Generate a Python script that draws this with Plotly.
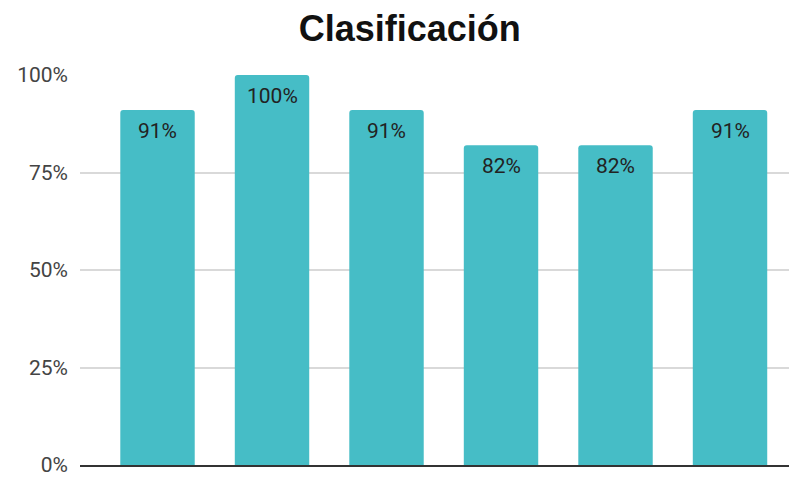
import plotly.graph_objects as go

categories = [0, 1, 2, 3, 4, 5]
values = [91, 100, 91, 82, 82, 91]
labels = ["91%", "100%", "91%", "82%", "82%", "91%"]
tick_vals = [0, 25, 50, 75, 100]
tick_text = ["0%", "25%", "50%", "75%", "100%"]

fig = go.Figure(go.Bar(
    x=categories, y=values,
    marker=dict(color="#46bdc6", cornerradius=3, line=dict(width=0)),
    width=0.65, hoverinfo="skip",
))

for c, v, t in zip(categories, values, labels):
    fig.add_annotation(x=c, y=v, text=t, showarrow=False, xanchor="center", yanchor="top",
                       yshift=-7, font=dict(family="Roboto", size=21, color="#222222"))

fig.update_layout(
    width=797, height=477,
    margin=dict(l=72, r=8, t=67, b=17),
    paper_bgcolor="white", plot_bgcolor="white",
    title=dict(text="<b>Clasificación</b>", x=0.504, xanchor="center", y=0.958, yanchor="middle",
               font=dict(family="Arial", size=36, color="#111111")),
    showlegend=False,
)
fig.update_xaxes(range=[-0.677, 5.585], showticklabels=False, showgrid=False, zeroline=False,
                 showline=True, linecolor="#333333", linewidth=1.5, fixedrange=True)
fig.update_yaxes(range=[0, 100], tickvals=tick_vals, ticktext=tick_text,
                 tickfont=dict(family="Roboto", size=21, color="#444444"),
                 showgrid=True, gridcolor="#d9d9d9", gridwidth=1.5, zeroline=False,
                 ticks="", ticklabelstandoff=11)

fig.write_html("out.html")
